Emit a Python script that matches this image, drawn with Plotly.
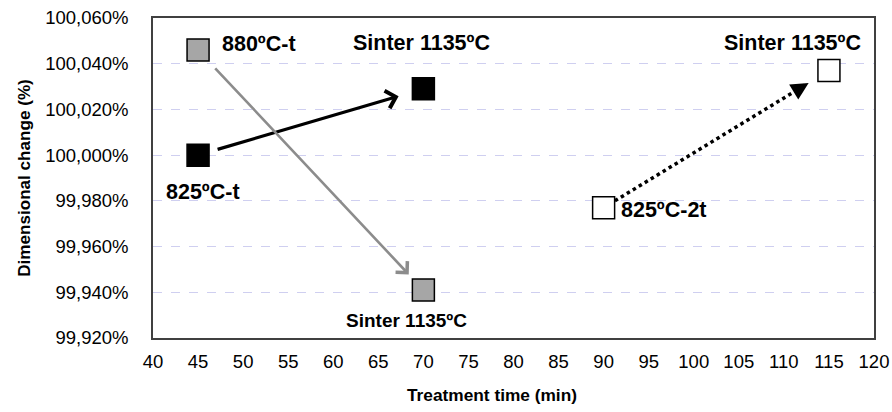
import plotly.graph_objects as go

# ---- data ----
x_ticks = list(range(40, 121, 5))
y_ticks = [99.92, 99.94, 99.96, 99.98, 100.00, 100.02, 100.04, 100.06]
y_tick_labels = ["99,920%", "99,940%", "99,960%", "99,980%",
                 "100,000%", "100,020%", "100,040%", "100,060%"]

t_825t = [45, 70]
d_825t = [100.000, 100.029]
lbl_825t = ["825ºC-t", "Sinter 1135ºC"]

t_880t = [45, 70]
d_880t = [100.046, 99.941]
lbl_880t = ["880ºC-t", "Sinter 1135ºC"]

t_8252t = [90, 115]
d_8252t = [99.977, 100.037]
lbl_8252t = ["825ºC-2t", "Sinter 1135ºC"]

x_title = "Treatment time (min)"
y_title = "Dimensional change (%)"

FONT = "Liberation Sans, Arial, sans-serif"

fig = go.Figure()

def pt(xs, ys, f):
    return xs[0] + (xs[1] - xs[0]) * f, ys[0] + (ys[1] - ys[0]) * f

# dotted line for 825-2t (drawn below markers)
sx, sy = pt(t_8252t, d_8252t, 0.05)
ex, ey = pt(t_8252t, d_8252t, 0.88)
fig.add_trace(go.Scatter(x=[sx, ex], y=[sy, ey], mode="lines",
                         line=dict(color="black", width=3.5, dash="dot"),
                         hoverinfo="skip", showlegend=False))

marker_base = dict(symbol="square", size=22, line=dict(color="black", width=1.5))
fig.add_trace(go.Scatter(x=t_825t, y=d_825t, mode="markers",
                         marker=dict(color="black", **marker_base), showlegend=False))
fig.add_trace(go.Scatter(x=t_880t, y=d_880t, mode="markers",
                         marker=dict(color="#a6a6a6", **marker_base), showlegend=False))
fig.add_trace(go.Scatter(x=t_8252t, y=d_8252t, mode="markers",
                         marker=dict(color="white", **marker_base), showlegend=False))

ann = []
# black arrow
sx, sy = pt(t_825t, d_825t, 0.08)
ex, ey = pt(t_825t, d_825t, 0.89)
ann.append(dict(x=ex, y=ey, ax=sx, ay=sy, xref="x", yref="y", axref="x", ayref="y",
                showarrow=True, arrowhead=4, arrowsize=1.1, arrowwidth=3.2,
                arrowcolor="black", text=""))
# gray arrow
sx, sy = pt(t_880t, d_880t, 0.07)
ex, ey = pt(t_880t, d_880t, 0.935)
ann.append(dict(x=ex, y=ey, ax=sx, ay=sy, xref="x", yref="y", axref="x", ayref="y",
                showarrow=True, arrowhead=4, arrowsize=1.2, arrowwidth=2.6,
                arrowcolor="#8c8c8c", text=""))
# dotted arrow head
sx, sy = pt(t_8252t, d_8252t, 0.84)
ex, ey = pt(t_8252t, d_8252t, 0.91)
ann.append(dict(x=ex, y=ey, ax=sx, ay=sy, xref="x", yref="y", axref="x", ayref="y",
                showarrow=True, arrowhead=2, arrowsize=1.0, arrowwidth=3.5,
                arrowcolor="black", text=""))

def lab(text, x, y, xs, ys, xanchor="center", yanchor="middle", size=21.5):
    ann.append(dict(text="<b>%s</b>" % text, x=x, y=y, xref="x", yref="y",
                    xshift=xs, yshift=ys, showarrow=False,
                    font=dict(family=FONT, size=size, color="black"),
                    xanchor=xanchor, yanchor=yanchor))

lab(lbl_880t[0], t_880t[0], d_880t[0], 22, 6, xanchor="left")
lab(lbl_825t[1], t_825t[1], d_825t[1], -2, 46)
lab(lbl_825t[0], t_825t[0], d_825t[0], 5, -37)
lab(lbl_880t[1], t_880t[1], d_880t[1], -17, -30, size=19)
lab(lbl_8252t[0], t_8252t[0], d_8252t[0], 15, -2, xanchor="left")
lab(lbl_8252t[1], t_8252t[1], d_8252t[1], 34, 28, xanchor="right")

# x axis title (placed left of centre as in the reference)
ann.append(dict(text="<b>%s</b>" % x_title, xref="paper", yref="paper", x=0.47, y=0,
                yshift=-57, xanchor="center", yanchor="middle", showarrow=False,
                font=dict(family=FONT, size=17.3, color="black")))

fig.update_layout(
    template="none",
    annotations=ann,
    width=892, height=412,
    margin=dict(l=153, r=18, t=18, b=74, autoexpand=False),
    paper_bgcolor="white", plot_bgcolor="white",
    font=dict(family=FONT, size=17, color="black"),
    showlegend=False,
)
fig.update_xaxes(range=[40, 120], tickvals=x_ticks, showgrid=False, zeroline=False,
                 automargin=False,
                 showline=True, linecolor="#404040", linewidth=1.5, mirror=True,
                 ticks="", ticklabelstandoff=6,
                 tickfont=dict(family=FONT, size=18.5, color="black"))
fig.update_yaxes(range=[99.92, 100.06], tickvals=y_ticks, ticktext=y_tick_labels,
                 automargin=False,
                 showgrid=True, gridcolor="#cfcff0", griddash="dash", gridwidth=1,
                 zeroline=False,
                 showline=True, linecolor="#404040", linewidth=1.5, mirror=True,
                 ticks="", ticklabelstandoff=19,
                 tickfont=dict(family=FONT, size=18.5, color="black"),
                 title=dict(text="<b>%s</b>" % y_title, standoff=10,
                            font=dict(family=FONT, size=17.1, color="black")))

fig.write_html("out.html", config={"displayModeBar": False},
               post_script="document.body.style.margin='0';document.body.style.padding='0';")
